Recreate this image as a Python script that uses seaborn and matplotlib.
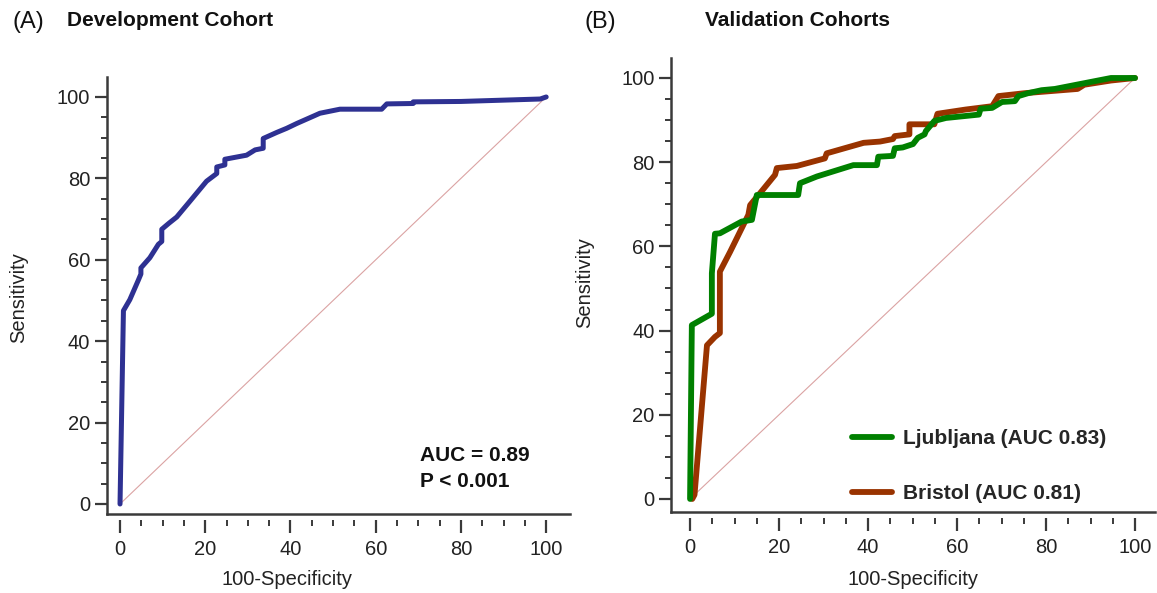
import numpy as np
import pandas as pd
import matplotlib
matplotlib.use("Agg")
import matplotlib.pyplot as plt
import seaborn as sns

# ==========================================================
# ROC points (100-Specificity, Sensitivity)
# ==========================================================

dev_fpr = [0, 0.8, 2.3, 4.3, 4.9, 4.9, 7, 9, 9.8, 9.8, 11.5, 13.3, 16.5, 20.3,
           22.7, 22.7, 24.6, 24.6, 29.7, 31.7, 33.6, 33.6, 36.8, 39.1, 41.5,
           45.4, 46.9, 51.6, 61.4, 62.6, 68.8, 68.8, 80, 98.6, 100]
dev_tpr = [0, 47.5, 50.2, 55, 56.5, 58, 60.5, 63.8, 64.5, 67.5, 69, 70.5, 74.5,
           79.3, 81.2, 82.8, 83.3, 84.7, 85.7, 87, 87.4, 89.8, 91.3, 92.3, 93.5,
           95.3, 96, 97, 97, 98.3, 98.4, 98.8, 98.9, 99.5, 100]

lju_fpr = [0, 0.4, 4.9, 4.9, 5.6, 6.7, 11.6, 13.9, 15, 24.3, 24.7, 28.5, 36.7,
           42, 42.3, 45.6, 46, 47.8, 50.1, 51.2, 52.7, 53, 54.9, 57.5, 64.9,
           65.3, 67.9, 70.1, 73, 73.8, 76, 79, 82, 94.6, 100]
lju_tpr = [0, 41.3, 44, 53.6, 63, 63.1, 65.9, 66.3, 72.2, 72.2, 75, 76.6, 79.3,
           79.3, 81.3, 81.5, 83.3, 83.5, 84.3, 85.8, 86.6, 87.4, 89.8, 90.5,
           91.3, 92.7, 92.9, 94.3, 94.5, 95.7, 96.4, 97.1, 97.4, 100, 100]

bri_fpr = [0.5, 1, 3.8, 5.6, 6.7, 6.7, 9, 13.1, 13.5, 15.7, 19.1, 19.5, 24,
           30.3, 30.7, 39, 42.7, 45.6, 46, 49.3, 49.3, 54.9, 55.6, 61.9, 67.9,
           69.3, 75.3, 87.1, 88.6, 94.6, 100]
bri_tpr = [0, 1, 36.5, 38.5, 39.4, 54, 58.7, 67.5, 69.8, 72.6, 77, 78.6, 79.1,
           80.9, 82.1, 84.6, 84.9, 85.5, 86.2, 86.6, 89, 89, 91.5, 92.5, 93.3,
           95.7, 96.4, 97.4, 98.4, 99.4, 100]

chance = [0, 100]
major_ticks = [0, 20, 40, 60, 80, 100]
minor_ticks = list(range(0, 101, 5))

dev_df = pd.DataFrame({"fpr": dev_fpr, "tpr": dev_tpr})
lju_df = pd.DataFrame({"fpr": lju_fpr, "tpr": lju_tpr})
bri_df = pd.DataFrame({"fpr": bri_fpr, "tpr": bri_tpr})

AXIS_COLOR = "#3a3a3a"
DIAG_COLOR = "#dba3a3"

sns.set_style("ticks")
plt.rcParams["font.family"] = ["Liberation Sans", "DejaVu Sans"]

fig = plt.figure(figsize=(11.57, 5.93), dpi=100)
ax1 = fig.add_axes([0.0925, 0.1332, 0.4002, 0.7369])
ax2 = fig.add_axes([0.5800, 0.1366, 0.4183, 0.7656])


def style_axis(ax, xlim, ylim):
    ax.set_xlim(xlim)
    ax.set_ylim(ylim)
    ax.set_xticks(major_ticks)
    ax.set_yticks(major_ticks)
    ax.set_xticks(minor_ticks, minor=True)
    ax.set_yticks(minor_ticks, minor=True)
    ax.spines[["top", "right"]].set_visible(False)
    ax.spines["left"].set_linewidth(1.8)
    ax.spines["left"].set_color(AXIS_COLOR)
    # x ticks sit a little below the axis line
    ax.spines["bottom"].set_position(("outward", 4))
    ax.spines["bottom"].set_visible(False)
    ax.plot([0, 1], [0, 0], transform=ax.transAxes, color=AXIS_COLOR,
            lw=1.8, clip_on=False, solid_capstyle="projecting")
    ax.tick_params(which="major", length=9, width=1.6, color=AXIS_COLOR,
                   labelsize=14.5, labelcolor="#222222")
    ax.tick_params(which="minor", length=4.5, width=1.4, color=AXIS_COLOR)
    ax.tick_params(axis="x", which="major", pad=6)
    ax.tick_params(axis="y", which="major", pad=3)
    ax.set_xlabel("100-Specificity", fontsize=14.5, color="#222222")
    ax.set_ylabel("Sensitivity", fontsize=14.5, color="#222222")


# ==========================================================
# (A) Development Cohort
# ==========================================================

ax1.plot(chance, chance, color=DIAG_COLOR, lw=0.8, zorder=1)
sns.lineplot(data=dev_df, x="fpr", y="tpr", sort=False, estimator=None,
             color="#2e3192", lw=3.6, ax=ax1, zorder=3)
style_axis(ax1, (-3.05, 105.6), (-2.46, 104.9))
ax1.xaxis.set_label_coords(0.389, -0.128)
ax1.yaxis.set_label_coords(-0.171, 0.495)
ax1.text(70.4, 14.2, "AUC = 0.89\nP < 0.001", fontsize=15, fontweight="bold",
         va="top", ha="left", linespacing=1.42, color="#111111")

# ==========================================================
# (B) Validation Cohorts
# ==========================================================

ax2.plot(chance, chance, color=DIAG_COLOR, lw=0.8, zorder=1)
sns.lineplot(data=bri_df, x="fpr", y="tpr", sort=False, estimator=None,
             color="#993300", lw=4.2, ax=ax2, zorder=3,
             label="Bristol (AUC 0.81)")
sns.lineplot(data=lju_df, x="fpr", y="tpr", sort=False, estimator=None,
             color="#008000", lw=4.2, ax=ax2, zorder=4,
             label="Ljubljana (AUC 0.83)")
style_axis(ax2, (-4.27, 104.5), (-3.1, 104.75))
ax2.xaxis.set_label_coords(0.5, -0.128)
ax2.yaxis.set_label_coords(-0.159, 0.505)

handles, labels = ax2.get_legend_handles_labels()
ax2.legend(handles[::-1], labels[::-1], loc="upper left",
           bbox_to_anchor=(0.374, 0.183), frameon=False,
           prop={"weight": "bold", "size": 15}, handlelength=1.9,
           handletextpad=0.55, labelspacing=1.75, borderpad=0,
           borderaxespad=0)

# ==========================================================
# Panel titles
# ==========================================================

fig.text(12 / 1157, 1 - 22 / 593, "(A)", fontsize=17, va="center", color="#111111")
fig.text(67 / 1157, 1 - 20 / 593, "Development Cohort", fontsize=15,
         fontweight="bold", va="center", color="#111111")
fig.text(585 / 1157, 1 - 22 / 593, "(B)", fontsize=17, va="center", color="#111111")
fig.text(705 / 1157, 1 - 20 / 593, "Validation Cohorts", fontsize=15,
         fontweight="bold", va="center", color="#111111")

fig.savefig("out.png", dpi=100)
